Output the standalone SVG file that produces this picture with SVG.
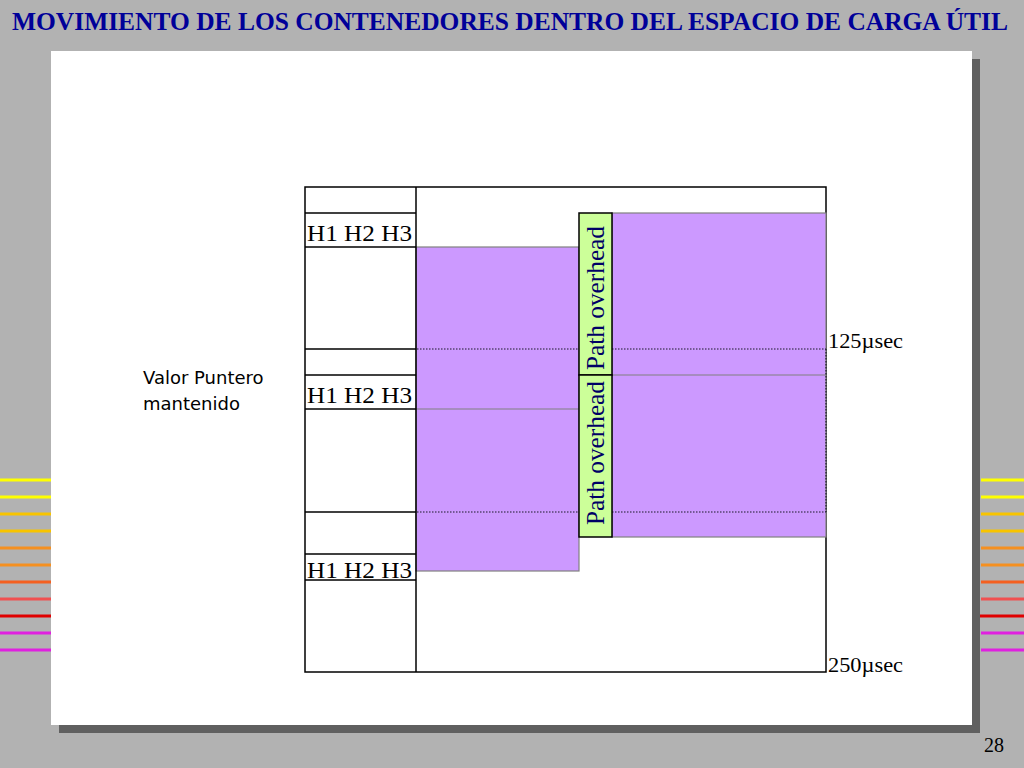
<svg xmlns="http://www.w3.org/2000/svg" width="1024" height="768" viewBox="0 0 1024 768">
<style>
.title{font-family:"Liberation Serif","Times New Roman",serif;font-weight:bold;font-size:25px;fill:#000099}
.tm{font-family:"Liberation Serif","Times New Roman",serif;fill:#000000}
.h{font-size:24px}
.po{font-family:"Liberation Serif","Times New Roman",serif;font-size:25px;fill:#000066}
.sans{font-family:"DejaVu Sans","Liberation Sans",sans-serif;font-size:18px;fill:#000000}
.grid{stroke:#000000;stroke-width:1.5;fill:none}
.purple{fill:#cc99ff;stroke:#808080;stroke-width:1.2}
.green{fill:#ccff99;stroke:#000000;stroke-width:1.5}
.div{stroke:#808080;stroke-width:1.2}
.dot{stroke:#1a1a2a;stroke-width:1.2;stroke-dasharray:1.5 1.5;fill:none}
</style>
<rect x="0" y="0" width="1024" height="768" fill="#b2b2b2"/>
<g id="side-lines" stroke-width="3">
<line x1="0" y1="480" x2="51" y2="480" stroke="#ffff00"/>
<line x1="0" y1="497" x2="51" y2="497" stroke="#ffff00"/>
<line x1="0" y1="514" x2="51" y2="514" stroke="#f8c400"/>
<line x1="0" y1="531" x2="51" y2="531" stroke="#f8c400"/>
<line x1="0" y1="548" x2="51" y2="548" stroke="#f59020"/>
<line x1="0" y1="565" x2="51" y2="565" stroke="#f59020"/>
<line x1="0" y1="582" x2="51" y2="582" stroke="#f46020"/>
<line x1="0" y1="599" x2="51" y2="599" stroke="#f05050"/>
<line x1="0" y1="616" x2="51" y2="616" stroke="#e00000"/>
<line x1="0" y1="633" x2="51" y2="633" stroke="#e020e0"/>
<line x1="0" y1="650" x2="51" y2="650" stroke="#e020e0"/>
<line x1="981" y1="480" x2="1024" y2="480" stroke="#ffff00"/>
<line x1="981" y1="497" x2="1024" y2="497" stroke="#ffff00"/>
<line x1="981" y1="514" x2="1024" y2="514" stroke="#f8c400"/>
<line x1="981" y1="531" x2="1024" y2="531" stroke="#f8c400"/>
<line x1="981" y1="548" x2="1024" y2="548" stroke="#f59020"/>
<line x1="981" y1="565" x2="1024" y2="565" stroke="#f59020"/>
<line x1="981" y1="582" x2="1024" y2="582" stroke="#f46020"/>
<line x1="981" y1="599" x2="1024" y2="599" stroke="#f05050"/>
<line x1="980" y1="616" x2="1024" y2="616" stroke="#e00000"/>
<line x1="981" y1="633" x2="1024" y2="633" stroke="#e020e0"/>
<line x1="981" y1="650" x2="1024" y2="650" stroke="#e020e0"/>
</g>
<text class="title" x="12" y="30" textLength="996" lengthAdjust="spacingAndGlyphs">MOVIMIENTO DE LOS CONTENEDORES DENTRO DEL ESPACIO DE CARGA ÚTIL</text>
<rect x="59" y="59" width="921" height="674" fill="#606060"/>
<rect x="51" y="51" width="921" height="674" fill="#ffffff"/>
<text class="tm" x="984" y="752" font-size="20">28</text>

<g id="frame">
<rect class="grid" x="305" y="187" width="521" height="485"/>
</g>
<g id="payload-1">
<rect class="purple" x="416" y="247" width="163" height="324"/>
<line class="div" x1="416" y1="409" x2="579" y2="409"/>
</g>
<g id="payload-2">
<rect class="purple" x="612" y="213" width="214" height="324"/>
<line class="div" x1="612" y1="375" x2="826" y2="375"/>
</g>
<g id="connectors">
<line class="dot" x1="417" y1="349" x2="826" y2="349"/>
<line class="dot" x1="417" y1="512" x2="826" y2="512"/>
<line class="dot" x1="826" y1="349" x2="826" y2="512"/>
</g>
<g id="path-overhead-1">
<rect class="green" x="579" y="213" width="33" height="162"/>
<text class="po" transform="translate(604,370) rotate(-90)" textLength="144" lengthAdjust="spacingAndGlyphs">Path overhead</text>
</g>
<g id="path-overhead-2">
<rect class="green" x="579" y="375" width="33" height="162"/>
<text class="po" transform="translate(604,525) rotate(-90)" textLength="144" lengthAdjust="spacingAndGlyphs">Path overhead</text>
</g>
<g id="section-overhead">
<line class="grid" x1="416" y1="187" x2="416" y2="672"/>
<line class="grid" x1="305" y1="213" x2="416" y2="213"/>
<line class="grid" x1="305" y1="247" x2="416" y2="247"/>
<line class="grid" x1="305" y1="349" x2="416" y2="349"/>
<line class="grid" x1="305" y1="375" x2="416" y2="375"/>
<line class="grid" x1="305" y1="409" x2="416" y2="409"/>
<line class="grid" x1="305" y1="512" x2="416" y2="512"/>
<line class="grid" x1="305" y1="554" x2="416" y2="554"/>
<line class="grid" x1="305" y1="580" x2="416" y2="580"/>
<text class="tm h" x="307" y="241" textLength="105" lengthAdjust="spacingAndGlyphs">H1 H2 H3</text>
<text class="tm h" x="307" y="403" textLength="105" lengthAdjust="spacingAndGlyphs">H1 H2 H3</text>
<text class="tm h" x="307" y="578" textLength="105" lengthAdjust="spacingAndGlyphs">H1 H2 H3</text>
</g>
<g id="labels">
<text class="sans" x="143" y="384">Valor Puntero</text>
<text class="sans" x="143" y="410">mantenido</text>
<text class="tm" x="828" y="348" font-size="20" textLength="75" lengthAdjust="spacingAndGlyphs">125µsec</text>
<text class="tm" x="828" y="672" font-size="20" textLength="75" lengthAdjust="spacingAndGlyphs">250µsec</text>
</g>
</svg>
